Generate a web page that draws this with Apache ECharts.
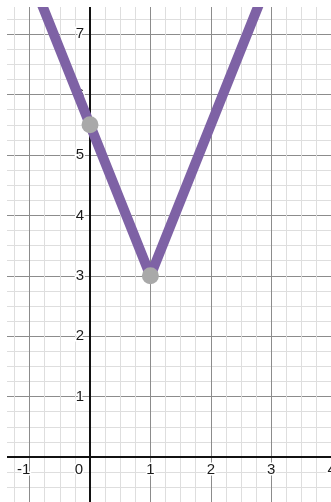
<!DOCTYPE html>
<html>
<head>
<meta charset="utf-8">
<script src="https://cdn.jsdelivr.net/npm/echarts@6/dist/echarts.min.js"></script>
<style>
html,body{margin:0;padding:0;background:#fff;}
#c{width:331px;height:502px;}
</style>
</head>
<body>
<div id="c"></div>
<script>
// Data
var xTicks = [-2, -1, 0, 1, 2, 3, 4, 5];
var yTicks = [-1, 0, 1, 2, 3, 4, 5, 6, 7, 8];
var lineX = [-1, 1, 3];
var lineY = [8, 3, 8];
var pointX = [0, 1];
var pointY = [5.5, 3];

var PX = 60.4; // pixels per unit
var originX = 90, originY = 457;
var W = 331, H = 502;
var xMin = xTicks[0], xMax = xTicks[xTicks.length - 1];
var yMin = yTicks[0], yMax = yTicks[yTicks.length - 1];

var chart = echarts.init(document.getElementById('c'), null, {renderer: 'canvas'});

var font = 'Liberation Sans, Arial, sans-serif';
var lineData = lineX.map(function (x, i) { return [x, lineY[i]]; });
var pointData = pointX.map(function (x, i) { return [x, pointY[i]]; });

chart.setOption({
  animation: false,
  backgroundColor: '#fff',
  grid: {
    left: originX + xMin * PX,
    right: W - (originX + xMax * PX),
    top: originY - yMax * PX,
    bottom: H - (originY - yMin * PX),
    containLabel: false,
    outerBoundsMode: 'none'
  },
  xAxis: {
    type: 'value', min: xMin, max: xMax, interval: 1,
    position: 'bottom',
    offset: yMin * PX,
    axisLine: {show: true, onZero: false, lineStyle: {color: '#111', width: 2}},
    axisTick: {show: false},
    minorTick: {show: false, splitNumber: 4},
    splitLine: {show: true, lineStyle: {color: '#8c8c8c', width: 1}},
    minorSplitLine: {show: true, lineStyle: {color: '#dedede', width: 1}},
    axisLabel: {
      margin: 5, fontSize: 15, color: '#1a1a1a', fontFamily: font,
      textBorderColor: '#fff', textBorderWidth: 3,
      formatter: function (v) {
        if (v === 0) return '{z|0}';
        if (v < 0) return '{n|' + v + '}';
        return '' + v;
      },
      rich: {
        z: {fontSize: 15, color: '#1a1a1a', fontFamily: font, padding: [0, 22, 0, 0], textBorderColor: '#fff', textBorderWidth: 3},
        n: {fontSize: 15, color: '#1a1a1a', fontFamily: font, padding: [0, 12, 0, 0], textBorderColor: '#fff', textBorderWidth: 3}
      }
    }
  },
  yAxis: {
    type: 'value', min: yMin, max: yMax, interval: 1,
    position: 'left',
    offset: xMin * PX,
    axisLine: {show: true, onZero: false, lineStyle: {color: '#111', width: 2}},
    axisTick: {show: false},
    minorTick: {show: false, splitNumber: 4},
    splitLine: {show: true, lineStyle: {color: '#8c8c8c', width: 1}},
    minorSplitLine: {show: true, lineStyle: {color: '#dedede', width: 1}},
    axisLabel: {
      margin: 6, fontSize: 15, color: '#1a1a1a', fontFamily: font,
      textBorderColor: '#fff', textBorderWidth: 3,
      formatter: function (v) { return v <= 0 ? '' : '' + v; }
    }
  },
  series: [
    {
      type: 'line', data: lineData, clip: true, showSymbol: false, symbol: 'none',
      lineStyle: {color: '#7e62a5', width: 10, cap: 'round', join: 'round'},
      z: 3, silent: true
    },
    {
      type: 'scatter', data: pointData, symbolSize: 17,
      itemStyle: {color: '#a9a9a9', opacity: 1},
      z: 4, silent: true
    }
  ],
  graphic: [
    {type: 'rect', z: 100, shape: {x: 0, y: 0, width: W, height: 7}, style: {fill: '#fff'}},
    {type: 'rect', z: 100, shape: {x: 0, y: 0, width: 7, height: H}, style: {fill: '#fff'}}
  ]
});
</script>
</body>
</html>
